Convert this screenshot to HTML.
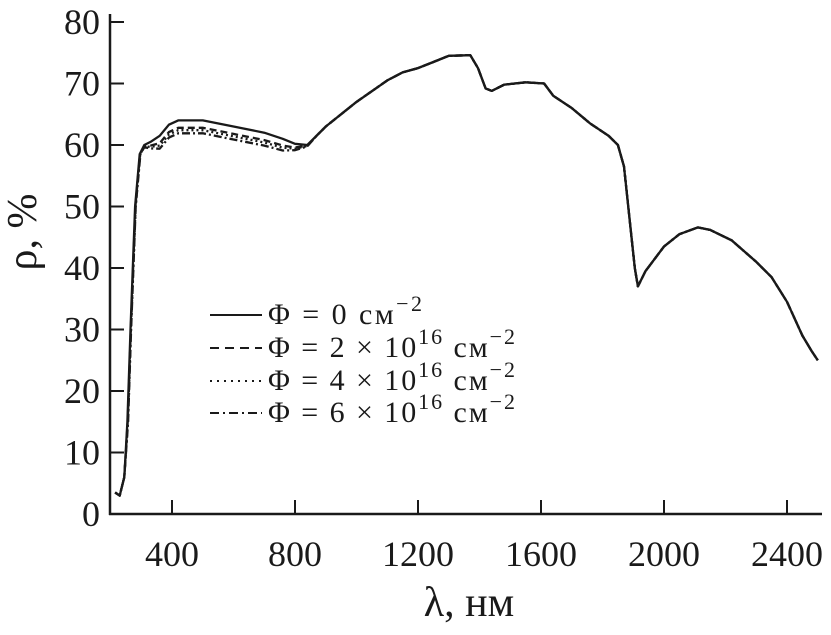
<!DOCTYPE html>
<html><head><meta charset="utf-8"><style>
body{margin:0;background:#fff}
svg text{font-family:"Liberation Serif",serif;fill:#1a1a1a}
</style></head><body>
<svg id="s" width="831" height="630" viewBox="0 0 831 630" xmlns="http://www.w3.org/2000/svg">
<g stroke="#1a1a1a" stroke-width="2.5" fill="none">
<line x1="110" y1="14" x2="110" y2="515"/>
<line x1="109" y1="514" x2="822" y2="514"/>
</g>
<g id="ticks" stroke="#1a1a1a" stroke-width="2"></g>
<g font-size="36" text-anchor="end" id="yl"></g>
<g font-size="36" text-anchor="middle" id="xl"></g>
<text x="36" y="232" font-size="42" text-anchor="middle" transform="rotate(-90 36 232)">ρ, %</text>
<text x="469" y="616" font-size="42" text-anchor="middle">λ, нм</text>
<g id="curves" fill="none" stroke="#1a1a1a" stroke-width="2.3"></g>
<g stroke="#1a1a1a" stroke-width="2">
<line x1="210" y1="315" x2="262" y2="315"/>
<line x1="210" y1="348" x2="262" y2="348" stroke-dasharray="9,6"/>
<line x1="210" y1="381" x2="262" y2="381" stroke-dasharray="2,5"/>
<line x1="210" y1="413" x2="262" y2="413" stroke-dasharray="9,4,2,4"/>
</g>
<g font-size="30">
<text x="268" y="324" textLength="154" lengthAdjust="spacing">Φ = 0 см<tspan dy="-13" font-size="22">−2</tspan></text>
<text x="268" y="357" textLength="247" lengthAdjust="spacing">Φ = 2 × 10<tspan dy="-13" font-size="22">16</tspan><tspan dy="13"> см</tspan><tspan dy="-13" font-size="22">−2</tspan></text>
<text x="268" y="390" textLength="247" lengthAdjust="spacing">Φ = 4 × 10<tspan dy="-13" font-size="22">16</tspan><tspan dy="13"> см</tspan><tspan dy="-13" font-size="22">−2</tspan></text>
<text x="268" y="422" textLength="247" lengthAdjust="spacing">Φ = 6 × 10<tspan dy="-13" font-size="22">16</tspan><tspan dy="13"> см</tspan><tspan dy="-13" font-size="22">−2</tspan></text>
</g>
</svg>
<script>
var NS="http://www.w3.org/2000/svg";
function X(l){return 172+(l-400)*0.3075}
function Y(v){return 514-6.15*v}
function el(p,t,a,txt){var e=document.createElementNS(NS,t);for(var k in a)e.setAttribute(k,a[k]);if(txt)e.textContent=txt;document.getElementById(p).appendChild(e)}
for(var v=0;v<=80;v+=10){var y=Y(v);el("ticks","line",{x1:110,x2:124,y1:y,y2:y});el("yl","text",{x:100,y:y+12},""+v)}
for(var l=400;l<=2400;l+=400){var x=X(l);el("ticks","line",{x1:x,x2:x,y1:514,y2:500});el("xl","text",{x:x,y:566},""+l)}
var base=[[215,3.5],[230,3],[245,6],[255,15],[265,30],[280,50],[295,58.5],[310,60],[330,60.5],[360,61.5],[390,63.3],[420,64],[500,64],[600,63],[700,62],[760,61],[800,60.2],[840,60],[870,61.5],[900,63],[1000,67],[1100,70.5],[1150,71.8],[1200,72.5],[1250,73.5],[1300,74.5],[1370,74.6],[1395,72.5],[1420,69.2],[1440,68.8],[1480,69.8],[1550,70.2],[1610,70],[1640,68],[1700,66],[1760,63.5],[1820,61.5],[1850,60],[1870,56.5],[1890,47],[1905,40],[1915,37],[1940,39.5],[2000,43.5],[2050,45.5],[2110,46.6],[2150,46.2],[2220,44.5],[2300,41],[2350,38.5],[2400,34.5],[2450,29],[2480,26.5],[2500,25]];
var st=[null,"7,4","2,3","8,3,2,3"],dd=[0,1.2,1.6,2.1],sh=[0,3,5,7];
for(var i=0;i<4;i++){var d="";base.forEach(function(p,j){var l=p[0],v=p[1];if(i>0){if(l>=300&&l<=850){var w=Math.min(1,(l-300)/60)*Math.min(1,(850-l)/100);v-=dd[i]*w}if(l<=300&&l>=250){l+=sh[i]*0.3}}d+=(j?"L":"M")+X(l).toFixed(1)+","+Y(v).toFixed(1)});var a={d:d,"stroke-linejoin":"round"};if(st[i])a["stroke-dasharray"]=st[i];el("curves","path",a)}
</script>
</body></html>
